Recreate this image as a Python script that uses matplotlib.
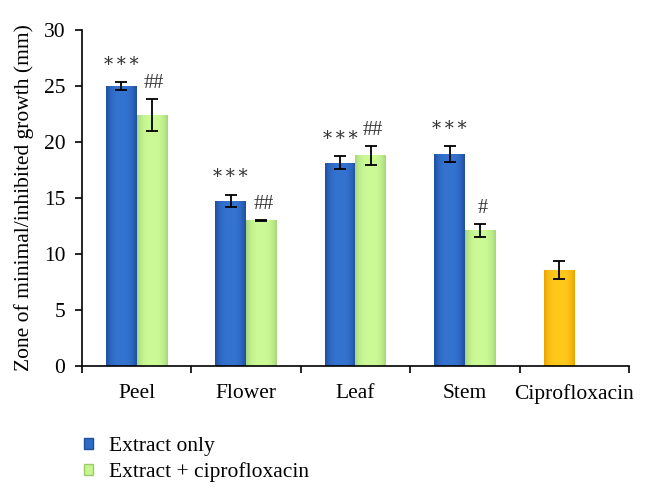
import numpy as np
import matplotlib.pyplot as plt
from matplotlib.patches import Patch
from matplotlib.colors import to_rgb

plt.rcParams['font.family'] = ['Liberation Serif', 'DejaVu Serif']

# Данные
categories = ['Peel', 'Flower', 'Leaf', 'Stem', 'Ciprofloxacin']
extract_only = [25.0, 14.75, 18.15, 18.9, 8.6]
extract_only_err = [0.35, 0.55, 0.6, 0.7, 0.8]
extract_cipro = [22.4, 13.0, 18.8, 12.1, np.nan]
extract_cipro_err = [1.4, 0.05, 0.85, 0.6, np.nan]
marks_only = ['*\u2009*\u2009*'] * 4 + ['']
marks_cipro = ['##', '##', '##', '#', '']

blue = '#2F6CC8'
green = '#C6F58E'
yellow = '#FFC41A'
colors_only = [blue, blue, blue, blue, yellow]

# цвета края и центра для объёмной заливки
shade = {blue: ('#1F4E9E', '#3473D0'),
         green: ('#A6D679', '#CBFA96'),
         yellow: ('#EAA200', '#FFC91C')}


def shade_bars(ax, bars, cols):
    for p, c in zip(bars.patches, cols):
        if not np.isfinite(p.get_height()):
            continue
        edge, mid = (np.array(to_rgb(v)) for v in shade[c])
        t = np.abs(np.linspace(-1, 1, 60)) ** 3
        grad = mid[None, :] * (1 - t[:, None]) + edge[None, :] * t[:, None]
        x0, y0 = p.get_x(), p.get_y()
        im = ax.imshow(grad[None, :, :], extent=[x0, x0 + p.get_width(), y0, y0 + p.get_height()],
                       aspect='auto', zorder=1.5, interpolation='bicubic')
        im.set_clip_path(p)


fig = plt.figure(figsize=(6.48, 5.03), dpi=100)
ax = fig.add_axes([0.1265, 0.2724, 0.8442, 0.668])

x = np.arange(len(categories))
w = 0.28
ekw = dict(ecolor='black', elinewidth=1.3, capthick=1.3, zorder=3)

b1 = ax.bar(x - w / 2, extract_only, w, color=colors_only, linewidth=0,
            yerr=extract_only_err, capsize=4, error_kw=ekw)
b2 = ax.bar(x + w / 2, extract_cipro, w, color=green, linewidth=0,
            yerr=extract_cipro_err, capsize=4, error_kw=ekw)
shade_bars(ax, b1, colors_only)
shade_bars(ax, b2, [green] * len(categories))

# Значки значимости
for i in range(len(categories)):
    if marks_only[i]:
        ax.text(x[i] - w / 2, extract_only[i] + extract_only_err[i] + 0.75,
                marks_only[i], ha='center', va='bottom', fontsize=13,
                family='DejaVu Serif', color='#333333')
    if marks_cipro[i]:
        ax.text(x[i] + w / 2 + 0.02, extract_cipro[i] + extract_cipro_err[i] + 0.55,
                marks_cipro[i], ha='center', va='bottom', fontsize=14.5,
                color='#333333')

ax.set_xlim(-0.5, len(categories) - 0.5)
ax.set_ylim(0, 30)
ax.set_yticks(np.arange(0, 31, 5))
ax.set_xticks(x)
ax.set_xticklabels(categories)
ax.set_xticks(np.arange(-0.5, len(categories), 1), minor=True)
ax.tick_params(axis='x', which='major', length=0, pad=13, labelsize=15.5)
ax.tick_params(axis='x', which='minor', length=5, width=1.2, direction='out')
ax.tick_params(axis='y', length=5, width=1.2, labelsize=15.5, pad=7)
ax.spines['top'].set_visible(False)
ax.spines['right'].set_visible(False)
ax.spines['left'].set_linewidth(1.2)
ax.spines['bottom'].set_linewidth(1.2)
ax.set_ylabel('Zone of minimal/inhibited growth (mm)', fontsize=15.5, labelpad=7)

handles = [Patch(facecolor=blue, edgecolor='#1E4F9C'),
           Patch(facecolor=green, edgecolor='#9CCB6A')]
fig.legend(handles, ['Extract only', 'Extract + ciprofloxacin'],
           loc='center left', bbox_to_anchor=(0.1296, 0.0865), frameon=False,
           fontsize=15.5, handlelength=0.42, handleheight=0.42,
           handletextpad=0.75, labelspacing=0.3, borderpad=0, borderaxespad=0)

fig.savefig('out.png', dpi=100)
